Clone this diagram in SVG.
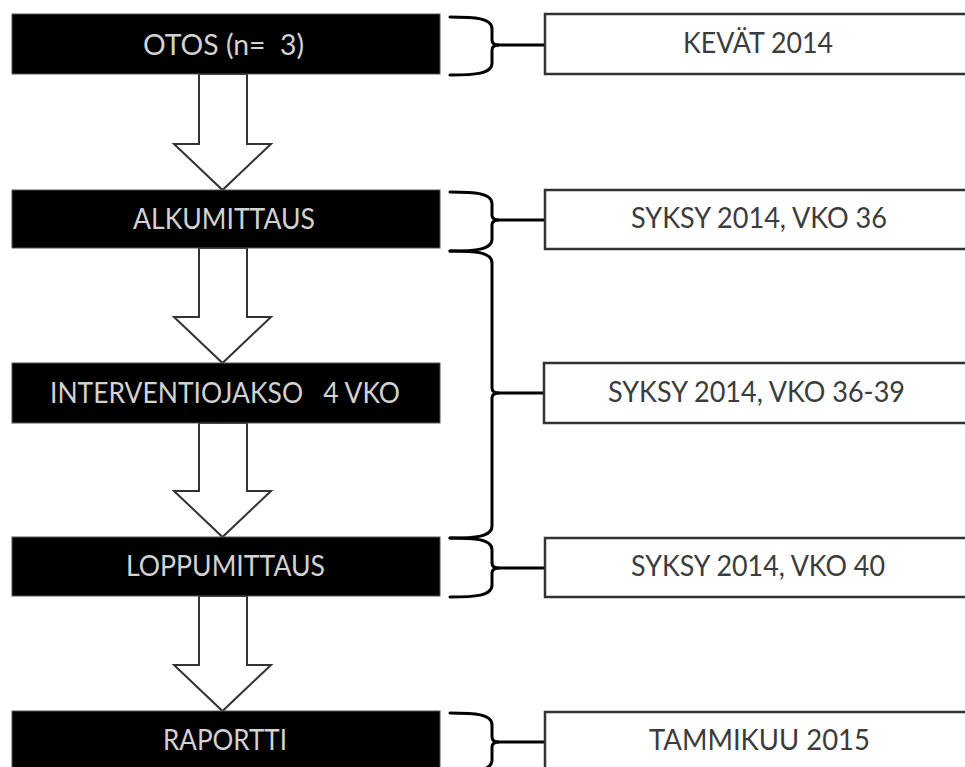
<svg xmlns="http://www.w3.org/2000/svg" width="965" height="767" viewBox="0 0 965 767">
<style>
.step{fill:#000;stroke:#555;stroke-width:1}
.date{fill:#fff;stroke:#333;stroke-width:2.5}
.lt{font-family:Lato,"Open Sans","Liberation Sans",sans-serif;font-size:29px;fill:#d2d2d2}
.rt{font-family:Lato,"Open Sans","Liberation Sans",sans-serif;font-size:29px;fill:#3c3c3c}
.arrow{fill:#fff;stroke:#333;stroke-width:2;stroke-linejoin:miter}
.brace{fill:none;stroke:#000;stroke-width:3;stroke-linecap:round}
.link{fill:none;stroke:#000;stroke-width:3}
</style>
<rect width="965" height="767" fill="#fff"/>
<g id="connectors">
<path class="arrow" d="M199,74 V144 H174 L222.5,190 L271,144 H247 V74 Z"/>
<path class="arrow" d="M199,248 V317 H174 L222.5,363 L271,317 H247 V248 Z"/>
<path class="arrow" d="M199,423 V491 H174 L222.5,537 L271,491 H247 V423 Z"/>
<path class="arrow" d="M199,596 V665 H174 L222.5,711 L271,665 H247 V596 Z"/>
<path class="brace" d="M450,17 C475,17 492,18 492,29 V40 Q492,45 499,45 Q492,45 492,50 V63 C492,74 475,75 450,75"/>
<path class="brace" d="M450,192 C475,192 492,193 492,204 V215 Q492,220 499,220 Q492,220 492,225 V239 C492,250 475,251 450,251"/>
<path class="brace" d="M450,251 C475,251 492,252 492,263 V388 Q492,393 499,393 Q492,393 492,398 V526 C492,537 475,538 450,538"/>
<path class="brace" d="M450,538 C475,538 492,539 492,550 V563 Q492,568 499,568 Q492,568 492,573 V585 C492,596 475,597 450,597"/>
<path class="brace" d="M450,713 C475,713 492,714 492,725 V737 Q492,742 499,742 Q492,742 492,747 V760 C492,771 475,772 450,772"/>
<path class="link" d="M497,45 H545 M497,220 H545 M497,393 H545 M497,568 H545 M497,742 H545"/>
</g>
<g id="otos">
<rect class="step" x="12" y="14" width="428" height="60"/>
<text class="lt" x="143" y="55" textLength="161" lengthAdjust="spacingAndGlyphs" xml:space="preserve">OTOS (n=  3)</text>
</g>
<g id="alkumittaus">
<rect class="step" x="12" y="190" width="428" height="58"/>
<text class="lt" x="133" y="229" textLength="182" lengthAdjust="spacingAndGlyphs">ALKUMITTAUS</text>
</g>
<g id="interventiojakso">
<rect class="step" x="12" y="363" width="428" height="60"/>
<text class="lt" x="50" y="403" textLength="350" lengthAdjust="spacingAndGlyphs" xml:space="preserve">INTERVENTIOJAKSO   4 VKO</text>
</g>
<g id="loppumittaus">
<rect class="step" x="12" y="537" width="428" height="59"/>
<text class="lt" x="126" y="576" textLength="199" lengthAdjust="spacingAndGlyphs">LOPPUMITTAUS</text>
</g>
<g id="raportti">
<rect class="step" x="12" y="711" width="428" height="60"/>
<text class="lt" x="163" y="750" textLength="124" lengthAdjust="spacingAndGlyphs">RAPORTTI</text>
</g>
<g id="kevat2014">
<rect class="date" x="545" y="14" width="430" height="60"/>
<text class="rt" x="683" y="53" textLength="150" lengthAdjust="spacingAndGlyphs">KEVÄT 2014</text>
</g>
<g id="syksy36">
<rect class="date" x="545" y="190" width="430" height="59"/>
<text class="rt" x="631" y="228" textLength="256" lengthAdjust="spacingAndGlyphs">SYKSY 2014, VKO 36</text>
</g>
<g id="syksy36-39">
<rect class="date" x="544" y="363" width="431" height="60"/>
<text class="rt" x="608" y="402" textLength="297" lengthAdjust="spacingAndGlyphs">SYKSY 2014, VKO 36-39</text>
</g>
<g id="syksy40">
<rect class="date" x="545" y="538" width="430" height="59"/>
<text class="rt" x="631" y="576" textLength="254" lengthAdjust="spacingAndGlyphs">SYKSY 2014, VKO 40</text>
</g>
<g id="tammikuu2015">
<rect class="date" x="545" y="712" width="430" height="60"/>
<text class="rt" x="649" y="750" textLength="221" lengthAdjust="spacingAndGlyphs">TAMMIKUU 2015</text>
</g>
</svg>
